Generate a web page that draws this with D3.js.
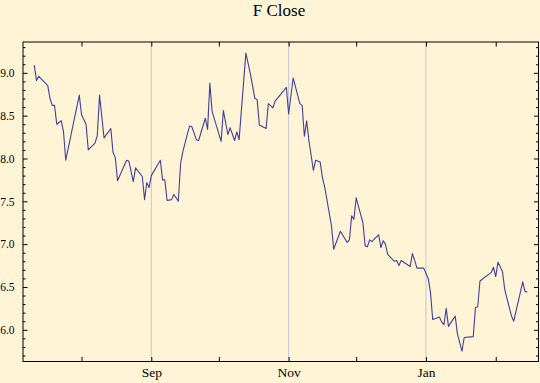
<!DOCTYPE html>
<html lang="en">
<head>
  <meta charset="UTF-8">
  <title>F Close</title>
  <style>
    body { margin: 0; background-color: #fff4d6; }
    svg { display: block; }
    .title { font-family: 'Liberation Serif', 'Times New Roman', serif; font-size: 17px; fill: #000; }
    .tick text { font-family: 'Liberation Serif', 'Times New Roman', serif; fill: #000; }
    .yaxis .tick text { font-size: 11.5px; }
    .xaxis .tick text { font-size: 13.5px; }
  </style>
</head>
<body>
  <svg width="540" height="383"></svg>
  <script src="https://d3js.org/d3.v7.min.js"></script>
  <script>
    // Closing prices
    const dates = [
      '2006-07-11', '2006-07-12', '2006-07-13', '2006-07-17', '2006-07-18', '2006-07-19', '2006-07-20', '2006-07-21',
      '2006-07-23', '2006-07-24', '2006-07-25', '2006-07-31', '2006-08-01', '2006-08-03', '2006-08-04', '2006-08-07',
      '2006-08-08', '2006-08-09', '2006-08-11', '2006-08-14', '2006-08-15', '2006-08-16', '2006-08-17', '2006-08-21',
      '2006-08-22', '2006-08-24', '2006-08-25', '2006-08-28', '2006-08-29', '2006-08-30', '2006-08-31', '2006-09-01',
      '2006-09-05', '2006-09-06', '2006-09-07', '2006-09-08', '2006-09-10', '2006-09-11', '2006-09-13', '2006-09-14',
      '2006-09-15', '2006-09-18', '2006-09-19', '2006-09-21', '2006-09-22', '2006-09-25', '2006-09-26', '2006-09-27',
      '2006-09-28', '2006-10-02', '2006-10-03', '2006-10-05', '2006-10-06', '2006-10-08', '2006-10-09', '2006-10-10',
      '2006-10-13', '2006-10-15', '2006-10-17', '2006-10-18', '2006-10-19', '2006-10-22', '2006-10-23', '2006-10-25',
      '2006-10-26', '2006-10-31', '2006-11-01', '2006-11-03', '2006-11-06', '2006-11-07', '2006-11-08', '2006-11-09',
      '2006-11-10', '2006-11-12', '2006-11-13', '2006-11-15', '2006-11-16', '2006-11-17', '2006-11-20', '2006-11-21',
      '2006-11-24', '2006-11-27', '2006-11-28', '2006-11-29', '2006-11-30', '2006-12-01', '2006-12-04', '2006-12-05',
      '2006-12-06', '2006-12-07', '2006-12-08', '2006-12-11', '2006-12-12', '2006-12-13', '2006-12-14', '2006-12-15',
      '2006-12-18', '2006-12-19', '2006-12-20', '2006-12-21', '2006-12-25', '2006-12-26', '2006-12-27', '2006-12-28',
      '2006-12-31', '2007-01-02', '2007-01-03', '2007-01-04', '2007-01-07', '2007-01-08', '2007-01-09', '2007-01-10',
      '2007-01-11', '2007-01-14', '2007-01-15', '2007-01-17', '2007-01-18', '2007-01-22', '2007-01-23', '2007-01-24',
      '2007-01-25', '2007-01-30', '2007-01-31', '2007-02-01', '2007-02-02', '2007-02-04', '2007-02-05', '2007-02-08',
      '2007-02-09', '2007-02-13', '2007-02-14', '2007-02-15'
    ];
    const closes = [
      9.09, 8.91, 8.96, 8.85, 8.70, 8.62, 8.62, 8.40,
      8.44, 8.31, 7.98, 8.74, 8.51, 8.40, 8.10, 8.18,
      8.27, 8.74, 8.24, 8.35, 8.07, 8.01, 7.74, 7.98,
      7.97, 7.73, 7.89, 7.79, 7.52, 7.72, 7.66, 7.80,
      7.98, 7.75, 7.75, 7.51, 7.52, 7.58, 7.50, 7.94,
      8.08, 8.38, 8.37, 8.22, 8.21, 8.47, 8.34, 8.88,
      8.55, 8.20, 8.56, 8.28, 8.36, 8.21, 8.31, 8.22,
      9.23, 8.99, 8.70, 8.69, 8.39, 8.35, 8.64, 8.59,
      8.67, 8.83, 8.52, 8.94, 8.64, 8.62, 8.26, 8.44,
      8.21, 7.86, 7.98, 7.96, 7.78, 7.67, 7.22, 6.94,
      7.15, 7.02, 7.05, 7.33, 7.29, 7.54, 7.25, 6.98,
      6.97, 7.05, 7.03, 7.11, 6.96, 7.04, 7.00, 6.88,
      6.80, 6.81, 6.75, 6.81, 6.74, 6.89, 6.81, 6.72,
      6.72, 6.60, 6.44, 6.12, 6.15, 6.09, 6.06, 6.25,
      6.04, 6.16, 5.95, 5.75, 5.91, 5.92, 6.26, 6.27,
      6.57, 6.67, 6.73, 6.62, 6.79, 6.68, 6.47, 6.16,
      6.10, 6.56, 6.45, 6.44
    ];
    const monthLabels = { 8: 'Sep', 10: 'Nov', 0: 'Jan' };
    const yMajor = [6.0, 6.5, 7.0, 7.5, 8.0, 8.5, 9.0];

    const parse = d3.timeParse('%Y-%m-%d');
    const data = dates.map((d, i) => ({ date: parse(d), close: closes[i] }));

    const svg = d3.select('svg');
    const frameL = 23, frameR = 538.5, frameT = 42, frameB = 361.5;

    const x = d3.scaleTime()
      .domain([parse('2006-07-06'), parse('2007-02-20')])
      .range([frameL, frameR]);
    const y = d3.scaleLinear()
      .domain([5.63, 9.36])
      .range([frameB, frameT]);

    const months = d3.timeMonth.range(x.domain()[0], x.domain()[1]);
    const yMinor = d3.range(57, 94).map(v => v / 10).filter(v => Math.round(v * 10) % 5 !== 0);

    // title
    svg.append('text')
      .attr('class', 'title')
      .attr('x', 279)
      .attr('y', 16)
      .attr('text-anchor', 'middle')
      .text('F Close');

    // grid lines at labelled months
    svg.append('g')
      .selectAll('line')
      .data(months.filter(m => monthLabels[m.getMonth()]))
      .join('line')
      .attr('x1', d => x(d)).attr('x2', d => x(d))
      .attr('y1', frameT).attr('y2', frameB)
      .attr('stroke', '#c4c6d6')
      .attr('stroke-width', 1);

    const noDomain = g => g.select('.domain').remove();
    const tickStroke = g => g.selectAll('.tick line').attr('stroke', '#000').attr('stroke-width', 1);

    // left axis
    svg.append('g')
      .attr('class', 'yaxis')
      .attr('transform', `translate(${frameL},0)`)
      .call(d3.axisLeft(y).tickValues(yMajor).tickSize(-4.5).tickPadding(8.5).tickFormat(d3.format('.1f')))
      .call(noDomain).call(tickStroke);
    svg.append('g')
      .attr('transform', `translate(${frameL},0)`)
      .call(d3.axisLeft(y).tickValues(yMinor).tickSize(-2.5).tickFormat(''))
      .call(noDomain).call(tickStroke);

    // right axis
    svg.append('g')
      .attr('transform', `translate(${frameR},0)`)
      .call(d3.axisRight(y).tickValues(yMajor).tickSize(-4.5).tickFormat(''))
      .call(noDomain).call(tickStroke);
    svg.append('g')
      .attr('transform', `translate(${frameR},0)`)
      .call(d3.axisRight(y).tickValues(yMinor).tickSize(-2.5).tickFormat(''))
      .call(noDomain).call(tickStroke);

    // bottom axis
    svg.append('g')
      .attr('class', 'xaxis')
      .attr('transform', `translate(0,${frameB})`)
      .call(d3.axisBottom(x).tickValues(months).tickSize(-4.5).tickPadding(6)
        .tickFormat(d => monthLabels[d.getMonth()] || ''))
      .call(noDomain).call(tickStroke);

    // top axis
    svg.append('g')
      .attr('transform', `translate(0,${frameT})`)
      .call(d3.axisTop(x).tickValues(months).tickSize(-4.5).tickFormat(''))
      .call(noDomain).call(tickStroke);

    // frame
    svg.append('rect')
      .attr('x', frameL).attr('y', frameT)
      .attr('width', frameR - frameL).attr('height', frameB - frameT)
      .attr('fill', 'none')
      .attr('stroke', '#000')
      .attr('stroke-width', 1);

    // price line
    const line = d3.line()
      .x(d => x(d.date))
      .y(d => y(d.close));

    svg.append('path')
      .datum(data)
      .attr('d', line)
      .attr('fill', 'none')
      .attr('stroke', '#40409c')
      .attr('stroke-width', 1.1)
      .attr('stroke-linejoin', 'round');
  </script>
</body>
</html>
